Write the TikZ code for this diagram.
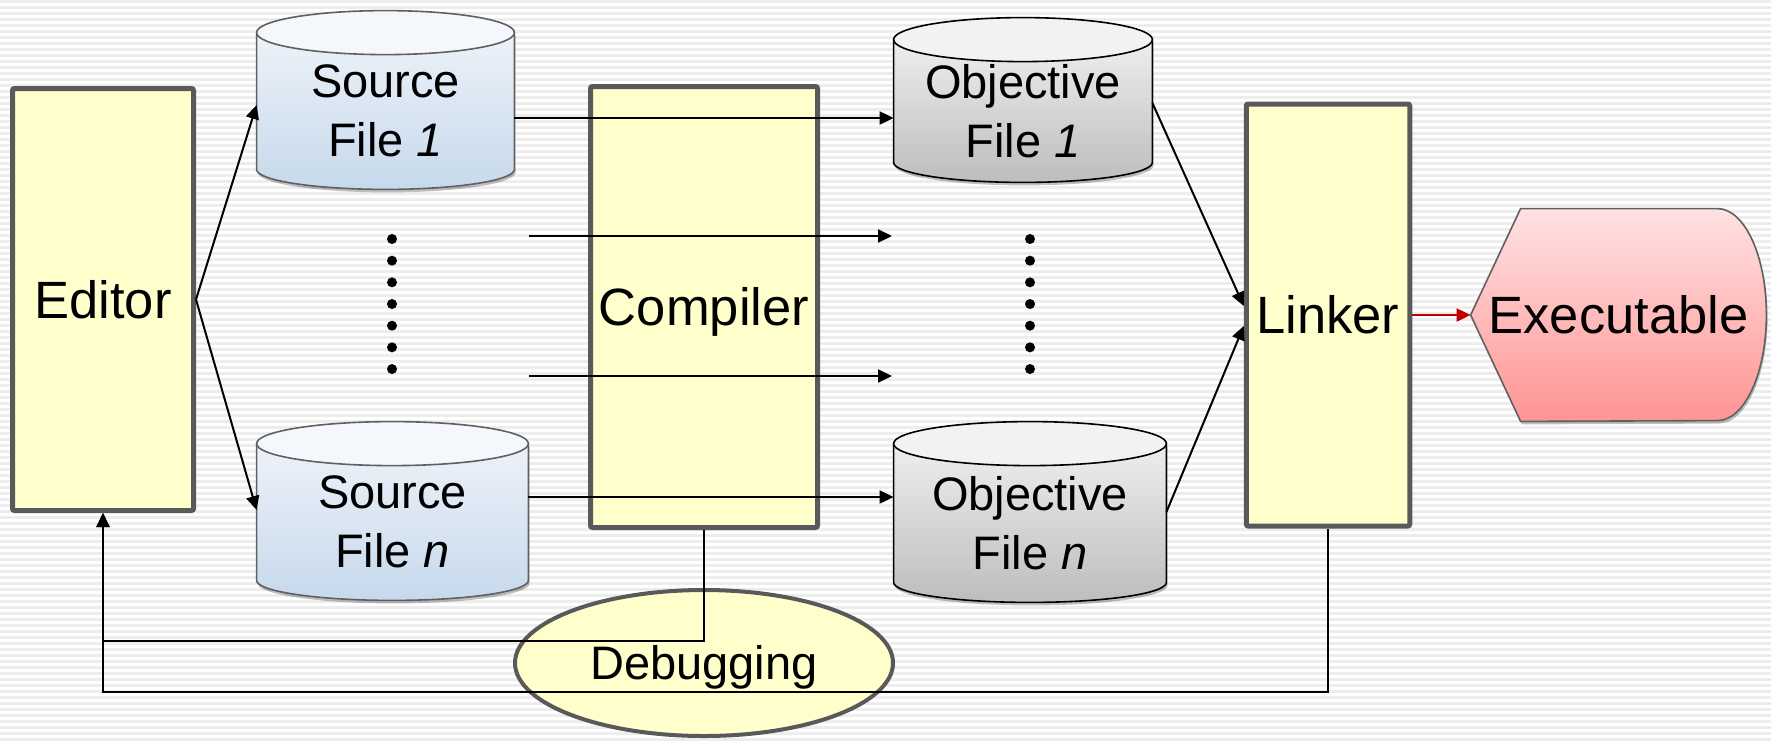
\documentclass[tikz,border=0pt]{standalone}
\usepackage{fontspec}
\setmainfont{Liberation Sans}
\usepackage{tikz}
\usetikzlibrary{shapes.geometric, arrows.meta, calc, backgrounds, shadows}

\definecolor{boxyellow}{HTML}{FFFFCC}
\definecolor{boxgray}{HTML}{595959}
\definecolor{diskgray}{HTML}{606060}
\definecolor{srctop}{HTML}{EDF2F9}
\definecolor{srcbot}{HTML}{C6D9EC}
\definecolor{srclidc}{HTML}{F4F7FB}
\definecolor{objtop}{HTML}{EEEEEE}
\definecolor{objbot}{HTML}{BDBDBD}
\definecolor{objlidc}{HTML}{F2F2F2}
\definecolor{exetop}{HTML}{FFE2E2}
\definecolor{exebot}{HTML}{FF9494}
\definecolor{exered}{HTML}{C00000}

\newcommand{\stagefont}{\fontsize{26.25}{31}\selectfont}
\newcommand{\diskfont}{\fontsize{23.5}{29.5}\selectfont}

\tikzstyle{stage} = [rectangle, rounded corners=1pt, line width=2.5pt, draw=boxgray, fill=boxyellow, inner sep=0pt, font=\stagefont, text height=18.9pt, text depth=0pt]
\tikzstyle{disk} = [rectangle, inner sep=0pt, align=center, font=\diskfont, minimum height=78pt, execute at begin node={\rule{0pt}{21.7pt}}]
\tikzstyle{softshadow} = [drop shadow={shadow xshift=0.6pt, shadow yshift=-1.5pt, opacity=0.25, fill=black}]
\tikzstyle{srcbody} = [softshadow, draw=diskgray, line width=0.8pt, top color=srctop, bottom color=srcbot]
\tikzstyle{srclid} = [draw=diskgray, line width=0.8pt, fill=srclidc]
\tikzstyle{objbody} = [softshadow, draw=black, line width=0.8pt, top color=objtop, bottom color=objbot]
\tikzstyle{objlid} = [draw=black, line width=0.8pt, fill=objlidc]
\tikzstyle{exebody} = [softshadow, draw=diskgray, line width=0.8pt, top color=exetop, bottom color=exebot]
\tikzstyle{arrow} = [line width=1pt, ->, >={Triangle[length=7pt, width=6.5pt]}]
\tikzstyle{stripe} = [fill=black!7]

\begin{document}
\begin{tikzpicture}[x=0.5pt, y=-0.5pt]
  \useasboundingbox (0,0) rectangle (1771,740);
  % striped backdrop
  \begin{scope}[on background layer]
    \fill[white] (0,0) rectangle (1771,740);
    \foreach \i in {0,...,123}
      \fill[stripe] (0,6*\i) rectangle (1771,6*\i+2.5);
  \end{scope}

  \node (editor) [stage, minimum width=90.5pt, minimum height=211pt] at (103,299.5) {Editor};
  \node (compiler) [stage, minimum width=113.5pt, minimum height=220.5pt] at (704,307) {Compiler};
  \node (linker) [stage, minimum width=81.75pt, minimum height=211pt] at (1328,315) {Linker};
  \node (exe) [rectangle, inner sep=0pt, minimum width=147.5pt, minimum height=106pt, font=\stagefont, text height=18.9pt, text depth=0pt] at (1618.5,315) {Executable};
  \node (debug) [ellipse, draw=boxgray, line width=2pt, fill=boxyellow, inner sep=0pt, minimum width=189pt, minimum height=73pt, font=\diskfont, text height=16.9pt, text depth=0pt] at (704,663) {Debugging};

  \node (src1) [disk, minimum width=128.5pt] at (385.5,111) {Source\\File \textit{1}};
  \node (srcn) [disk, minimum width=135.5pt] at (392.5,522) {Source\\File \textit{n}};
  \node (obj1) [disk, minimum width=129pt, minimum height=71pt] at (1023,111) {Objective\\File \textit{1}};
  \node (objn) [disk, minimum width=136pt, minimum height=79pt] at (1030,523) {Objective\\File \textit{n}};

  % cylinders and the output shape go behind their labels
  \begin{scope}[on background layer]
    \foreach \nm/\sty/\lid in {src1/srcbody/srclid, srcn/srcbody/srclid, obj1/objbody/objlid, objn/objbody/objlid} {
      \path[\sty] let \p1=($(\nm.east)-(\nm.west)$) in
        (\nm.north west) -- ([yshift=10pt]\nm.south west)
        arc[start angle=180, end angle=360, x radius=0.5*\x1, y radius=10pt]
        -- (\nm.north east) -- cycle;
      \path[\lid] let \p1=($(\nm.east)-(\nm.west)$) in
        (\nm.north) ellipse[x radius=0.5*\x1, y radius=11pt];
    }
    \path[exebody] (exe.west) -- ([xshift=25pt]exe.north west) -- ([xshift=-24.5pt]exe.north east)
      arc[start angle=90, end angle=-90, x radius=24.5pt, y radius=53pt]
      -- ([xshift=25pt]exe.south west) -- cycle;
  \end{scope}

  % the elided files
  \foreach \i in {0,...,6} {
    \fill (392,239+21.67*\i) circle (2.5pt);
    \fill (1030,239+21.67*\i) circle (2.5pt);
  }
  \coordinate (mid1a) at (529,236);
  \coordinate (mid1b) at (892,236);
  \coordinate (mid2a) at (529,376);
  \coordinate (mid2b) at (892,376);

  \draw[arrow] (editor.east) -- ([yshift=3pt]src1.west);
  \draw[arrow] (editor.east) -- ([yshift=6pt]srcn.west);
  \draw[arrow] ([yshift=-3.5pt]src1.east) -- ([yshift=-3.5pt]obj1.west);
  \draw[arrow] (mid1a) -- (mid1b);
  \draw[arrow] (mid2a) -- (mid2b);
  \draw[arrow] ([yshift=12.5pt]srcn.east) -- ([yshift=12.5pt]srcn.east -| objn.west);
  \draw[arrow] ([yshift=4pt]obj1.east) -- ([yshift=4.5pt]linker.west);
  \draw[arrow] ([yshift=5.5pt]objn.east) -- ([yshift=-5.5pt]linker.west);
  \draw[arrow, exered] (linker.east) -- (exe.west);
  \draw[arrow] (compiler.south) -- ++(0,111) -| (editor.south);
  \draw[arrow] (linker.south) -- ++(0,163) -| (editor.south);
\end{tikzpicture}
\end{document}
